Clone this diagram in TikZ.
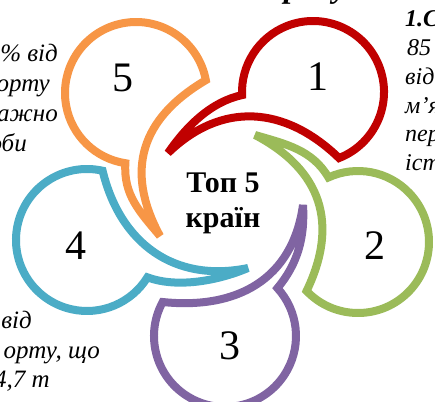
\documentclass[tikz,border=0pt]{standalone}
\usepackage{fontspec}
\setmainfont{Liberation Serif}
\usetikzlibrary{calc}
\definecolor{pred}{HTML}{C00000}
\definecolor{pgreen}{HTML}{9BBB59}
\definecolor{ppurple}{HTML}{8064A2}
\definecolor{pblue}{HTML}{4BACC6}
\definecolor{porange}{HTML}{F79646}
% #1 colour, #2 #3 circle centre, #4 circle direction, #5 #6 tip, #7 tail direction
\newcommand\petal[8]{%
  \pgfmathsetmacro\petA{#4-119}%
  \pgfmathsetmacro\petB{#4+132}%
  \pgfmathsetmacro\petOo{#7+141.5}%
  \pgfmathsetmacro\petOi{#7+5}%
  \pgfmathsetmacro\petIo{#7-6.5}%
  \pgfmathsetmacro\petIi{#7+85.5}%
  \coordinate (c#8) at (#2,#3);
  \coordinate (t#8) at (#5,#6);
  \draw[petalline, draw=#1] ($(c#8)+(\petA:71)$)
    arc[start angle=\petA, end angle=\petB, radius=71]
    to[out=\petOo, in=\petOi, distance=32pt] (t#8)
    to[out=\petIo, in=\petIi, distance=75pt] cycle;}
\begin{document}
\begin{tikzpicture}[x=1pt,y=1pt,
  petalline/.style={line width=8pt, fill=white, line join=miter, miter limit=4},
  digit/.style={inner sep=0pt, font=\fontsize{42}{42}\selectfont},
  ctr/.style={inner sep=0pt, font=\fontsize{30}{35}\selectfont\bfseries},
  rtxt/.style={inner sep=0pt, font=\fontsize{24}{29}\selectfont\itshape},
  ltxt/.style={inner sep=0pt, font=\fontsize{25}{30}\selectfont\itshape},
  ttl/.style={inner sep=0pt, font=\fontsize{32}{38}\selectfont\bfseries\itshape}]
\useasboundingbox (-224,-201) rectangle (211,200);
\clip (-224,-201) rectangle (211,200);
\petal{pred}{89}{108}{50.5}{-56}{47}{50.5}{1}
\petal{pgreen}{134}{-42}{-17.4}{31}{65}{-21.2}{2}
\petal{ppurple}{1}{-136}{-89.6}{79}{-5}{-91.4}{3}
\petal{pblue}{-137}{-40}{196.3}{24}{-68}{198.1}{4}
\petal{porange}{-88}{107}{129.4}{-64}{-36}{125}{5}
% digits
\node[digit] (d1) at (94,123) {1};
\node[digit] (d2) at (151,-46) {2};
\node[digit] (d3) at (6,-146) {3};
\node[digit] (d4) at (-148,-46) {4};
\node[digit] (d5) at (-101,122) {5};
% centre
\node[ctr, anchor=base] (ct1) at (-1,8) {Топ 5};
\node[ctr, anchor=base] (ct2) at (-1,-27) {країн};
% title remnants
\node[ttl, anchor=base west] (tr) at (60,202.5) {р};
\node[ttl, anchor=base west] (tu) at (109,202.5) {у};
% right text
\node[rtxt, anchor=base west] (r1) at (181,173) {\bfseries 1.С};
\node[rtxt, anchor=base west] (r2) at (183,144) {85};
\node[rtxt, anchor=base west] (r3) at (181,115) {від};
\node[rtxt, anchor=base west] (r4) at (181,86.5) {м’я};
\node[rtxt, anchor=base west] (r5) at (181,58) {пер};
\node[rtxt, anchor=base west] (r6) at (181,29) {іст};
% left text
\node[ltxt, anchor=base east] (l1) at (-166,138) {\% від};
\node[ltxt, anchor=base east] (l2) at (-174,108) {орту};
\node[ltxt, anchor=base east] (l3) at (-166,78) {ажно};
\node[ltxt, anchor=base east] (l4) at (-197,48) {оби};
% bottom-left text
\node[ltxt, anchor=base east] (b1) at (-192,-128) {від};
\node[ltxt, anchor=base east] (b2) at (-124,-158) {орту, що};
\node[ltxt, anchor=base east] (b3) at (-174,-187) {4,7 т};
\end{tikzpicture}
\end{document}
